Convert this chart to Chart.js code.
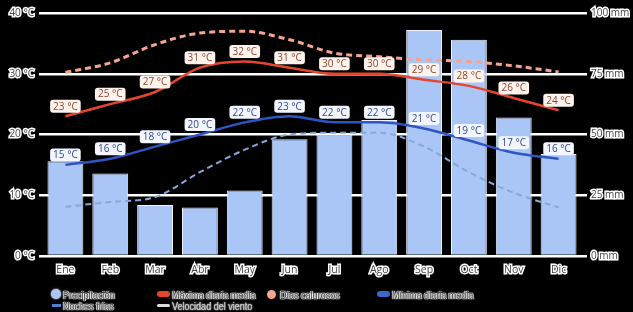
<!DOCTYPE html>
<html>
<head>
<meta charset="utf-8">
<script src="https://cdn.jsdelivr.net/npm/chart.js@4.4.1/dist/chart.umd.min.js"></script>
<style>
  html, body { margin:0; padding:0; background:#000; }
  #wrap { position:relative; width:633px; height:312px; }
  #c { position:absolute; left:0; top:0; }
  .lg { position:absolute; font:10.5px "Liberation Sans", Arial, sans-serif; color:#444; white-space:nowrap;
        transform:scaleX(0.86); transform-origin:0 50%;
        text-shadow: 0 0 1px #fff, 0 0 2px #fff, 1px 0 1px #fff, -1px 0 1px #fff; line-height:12px; }
  .ic { position:absolute; }
</style>
</head>
<body>
<div id="wrap">
  <canvas id="c" width="633" height="312"></canvas>
  <div class="ic" style="left:51px;top:289px;width:10px;height:10px;border-radius:50%;background:#a9c6f7;box-shadow:0 0 2px #fff;"></div>
  <div class="lg" style="left:63px;top:289px;">Precipitación</div>
  <div class="ic" style="left:52px;top:304px;width:9px;height:3px;border-top:3px dashed #4f7fd0;"></div>
  <div class="lg" style="left:63px;top:300px;">Noches frías</div>
  <div class="ic" style="left:157px;top:291px;width:13px;height:6px;border-radius:3px;background:#e5452e;"></div>
  <div class="lg" style="left:172px;top:289px;">Máxima diaria media</div>
  <div class="ic" style="left:157px;top:304px;width:13px;height:3px;border-radius:2px;background:#ddd;"></div>
  <div class="lg" style="left:172px;top:300px;color:#bbb;text-shadow:0 0 1px #ddd,0 0 2px #ddd;">Velocidad del viento</div>
  <div class="ic" style="left:267px;top:290px;width:9px;height:9px;border-radius:50%;background:#f5a48e;"></div>
  <div class="lg" style="left:280px;top:289px;">Días calurosos</div>
  <div class="ic" style="left:377px;top:291px;width:13px;height:6px;border-radius:3px;background:#3f64d2;"></div>
  <div class="lg" style="left:392px;top:289px;">Mínima diaria media</div>
</div>
<script>
const months = ['Ene','Feb','Mar','Abr','May','Jun','Jul','Ago','Sep','Oct','Nov','Dic'];
const precipitation = [39, 34, 21, 20, 27, 48, 50, 56, 93, 89, 57, 42];
const maxTemp = [23, 25, 27, 31, 32, 31, 30, 30, 29, 28, 26, 24];
const minTemp = [15, 16, 18, 20, 22, 23, 22, 22, 21, 19, 17, 16];
const hotDays = [30.2, 31.8, 34.8, 36.7, 37, 35.6, 33.4, 32.8, 32.3, 32, 31.3, 30.3];
const coldNights = [8.1, 8.9, 9.7, 13.8, 17.5, 20, 20.3, 20.3, 18, 13.8, 10.4, 8];
const tempTicks = [0, 10, 20, 30, 40];
const precTicks = [0, 25, 50, 75, 100];

const labelPlugin = {
  id: 'valueLabels',
  afterDatasetsDraw(chart) {
    const ctx = chart.ctx;
    const specs = [
      { idx: 1, color: '#8a4434', bg: '#fff3ec' },
      { idx: 3, color: '#30478a', bg: '#f3f6ff' }
    ];
    ctx.save();
    ctx.font = '10px "Open Sans", "Noto Sans", sans-serif';
    ctx.textAlign = 'center';
    ctx.textBaseline = 'middle';
    specs.forEach(s => {
      const ds = chart.data.datasets[s.idx];
      const meta = chart.getDatasetMeta(s.idx);
      meta.data.forEach((pt, j) => {
        const txt = ds.data[j] + ' °C';
        const w = ctx.measureText(txt).width + 6;
        const h = 13;
        const cx = pt.x, cy = pt.y - 10;
        ctx.fillStyle = s.bg;
        ctx.beginPath();
        ctx.roundRect(cx - w / 2, cy - h / 2, w, h, 3);
        ctx.fill();
        ctx.fillStyle = s.color;
        ctx.fillText(txt, cx, cy + 0.5);
      });
    });
    ctx.restore();
  }
};

const tickFont = { family: '"Open Sans", "Noto Sans", sans-serif', size: 10 };

new Chart(document.getElementById('c'), {
  data: {
    labels: months,
    datasets: [
      { type: 'line', label: 'Días calurosos', data: hotDays, yAxisID: 'y',
        borderColor: '#f5a48e', borderWidth: 3, borderDash: [6, 4], pointRadius: 0,
        cubicInterpolationMode: 'monotone', order: 1 },
      { type: 'line', label: 'Máxima diaria media', data: maxTemp, yAxisID: 'y',
        borderColor: '#e5452e', borderWidth: 2.5, pointRadius: 0,
        cubicInterpolationMode: 'monotone', order: 2 },
      { type: 'line', label: 'Noches frías', data: coldNights, yAxisID: 'y',
        borderColor: '#86a8d8', borderWidth: 2, borderDash: [6, 4], pointRadius: 0,
        cubicInterpolationMode: 'monotone', order: 3 },
      { type: 'line', label: 'Mínima diaria media', data: minTemp, yAxisID: 'y',
        borderColor: '#2f55c4', borderWidth: 2.5, pointRadius: 0,
        cubicInterpolationMode: 'monotone', order: 4 },
      { type: 'bar', label: 'Precipitación', data: precipitation, yAxisID: 'y1',
        backgroundColor: '#a9c6f7', borderColor: '#eef4ff', borderWidth: 1,
        barPercentage: 0.8, categoryPercentage: 1.0, order: 10 }
    ]
  },
  options: {
    responsive: false,
    animation: false,
    layout: { padding: { top: 13, bottom: 34, left: 0, right: 0 } },
    plugins: { legend: { display: false }, tooltip: { enabled: false } },
    scales: {
      x: {
        offset: true,
        grid: { display: false },
        border: { display: false },
        ticks: { color: '#444', font: { ...tickFont, size: 10.5 }, textStrokeColor: '#fff', textStrokeWidth: 3, padding: 0 },
        afterFit(s) { s.height = 22; }
      },
      y: {
        position: 'left', min: 0, max: 40,
        afterBuildTicks(s) { s.ticks = tempTicks.map(v => ({ value: v })); },
        grid: { color: '#ffffff', lineWidth: 2.5, tickLength: 4, tickColor: '#ffffff' },
        border: { display: false },
        ticks: { color: '#444', font: tickFont, textStrokeColor: '#fff', textStrokeWidth: 3, padding: 5,
                 callback: v => v + ' °C' },
        afterFit(s) { s.width = 43; }
      },
      y1: {
        position: 'right', min: 0, max: 100,
        afterBuildTicks(s) { s.ticks = precTicks.map(v => ({ value: v })); },
        grid: { drawOnChartArea: false, color: '#ffffff', lineWidth: 2.5, tickLength: 6, tickColor: '#ffffff' },
        border: { display: false },
        ticks: { color: '#444', font: tickFont, textStrokeColor: '#fff', textStrokeWidth: 3, padding: 4,
                 callback: v => v + ' mm' },
        afterFit(s) { s.width = 52; }
      }
    }
  },
  plugins: [labelPlugin]
});
</script>
</body>
</html>
